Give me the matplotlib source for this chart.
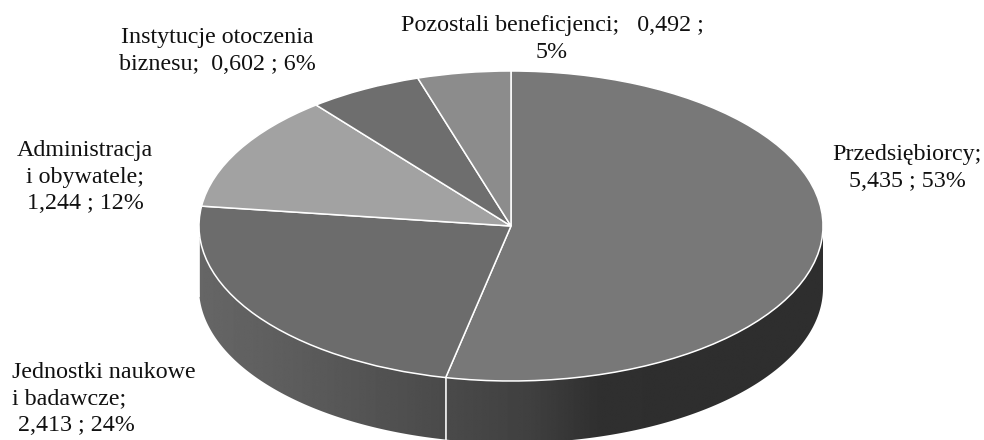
import matplotlib
matplotlib.use("Agg")
import matplotlib.pyplot as plt
import numpy as np
from matplotlib.patches import Polygon

W, H = 984, 440

# pie data
names = ["Przedsiębiorcy", "Jednostki naukowe i badawcze", "Administracja i obywatele",
         "Instytucje otoczenia biznesu", "Pozostali beneficjenci"]
values = [5.435, 2.413, 1.244, 0.602, 0.492]
top_colors = ["#787878", "#6c6c6c", "#a2a2a2", "#6e6e6e", "#8c8c8c"]

label_texts = [
    "Przedsiębiorcy;\n5,435 ; 53%",
    "Jednostki naukowe\ni badawcze;\n 2,413 ; 24%",
    "Administracja\ni obywatele;\n1,244 ; 12%",
    "Instytucje otoczenia\nbiznesu;  0,602 ; 6%",
    "Pozostali beneficjenci;   0,492 ;\n5%",
]
label_pos = [(907, 168), (12, 399), (85, 177), (217, 51), (552, 39)]
label_ha = ["center", "left", "center", "center", "center"]

# geometry in pixels
cx, cy = 511, 226
rx, ry = 312, 155
depth = 62

plt.rcParams["font.family"] = ["Liberation Serif", "DejaVu Serif"]

fig = plt.figure(figsize=(W / 100, H / 100), dpi=100)
ax = fig.add_axes([0, 0, 1, 1])

wedges, _ = ax.pie(values, colors=top_colors, startangle=90, counterclock=False, radius=1,
                   wedgeprops={"edgecolor": "white", "linewidth": 1.1, "zorder": 5})
ax.set_aspect("auto")
ax.axis("off")

d = depth / ry

# side wall, clockwise angle from the top
fracs = np.cumsum(values) / np.sum(values)
a_split = fracs[0] * 2 * np.pi
a_left = 1.5 * np.pi


def wall(a0, a1, x_stops, grey_stops):
    t = np.linspace(a0, a1, 200)
    xs = np.sin(t)
    ys = np.cos(t)
    pts = np.r_[np.c_[xs, ys], np.c_[xs[::-1], ys[::-1] - d]]
    poly = Polygon(pts, closed=True, transform=ax.transData, facecolor="none", edgecolor="none")
    ax.add_patch(poly)
    grad_x = np.linspace(xs.min(), xs.max(), 300)
    g = np.interp((grad_x * rx + cx), x_stops, grey_stops)
    im = ax.imshow(g[None, :], extent=(xs.min(), xs.max(), ys.min() - d, ys.max()), cmap="gray",
                   vmin=0, vmax=255, aspect="auto", zorder=2, interpolation="bilinear")
    im.set_clip_path(poly)


wall(np.pi / 2, a_split, [445, 530, 600, 830], [74, 64, 47, 46])
wall(a_split, a_left, [199, 300, 445], [102, 92, 74])

# the image calls reset the limits
ax.set_xlim(-cx / rx, (W - cx) / rx)
ax.set_ylim((cy - H) / ry, cy / ry)

# white seam on the wall
xb, yb = np.sin(a_split), np.cos(a_split)
ax.plot([xb, xb], [yb, yb - d], color="white", lw=1.1, zorder=3)
ax.plot([-1, -1], [-12 / ry, -12 / ry - 58 / ry], color="white", lw=0.6, zorder=3)

for txt, (x, y), ha in zip(label_texts, label_pos, label_ha):
    fig.text(x / W, 1 - y / H, txt, ha=ha, va="center", fontsize=17.3, color="#111111",
             linespacing=1.35, multialignment=ha)

fig.savefig("out.png", dpi=100)
